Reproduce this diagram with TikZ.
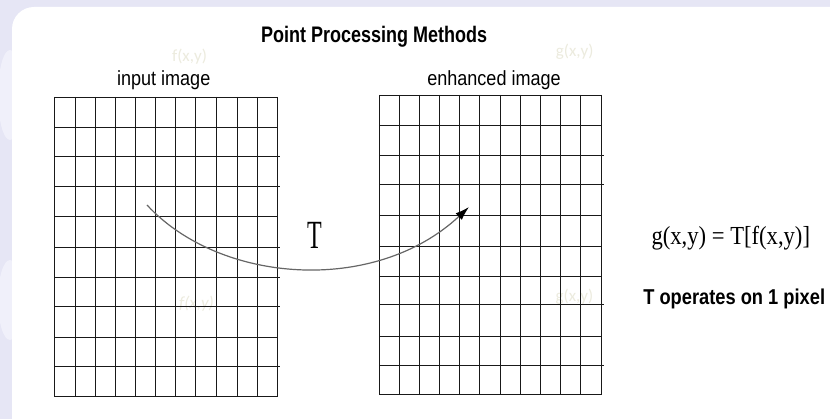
\documentclass[tikz,border=0pt]{standalone}
\usepackage{fontspec}
\setmainfont{Liberation Serif}
\newfontfamily\titlefont{Liberation Sans}[FakeStretch=0.8]
\newfontfamily\labelfont{Liberation Sans}[FakeStretch=0.88]
\newfontfamily\opfont{Liberation Sans}[FakeStretch=0.85]
\newfontfamily\formfont{Liberation Serif}[FakeStretch=0.87]
\newfontfamily\bigTfont{Liberation Serif}[FakeStretch=0.6]
\newfontfamily\wmfont{Carlito}
\usetikzlibrary{arrows.meta}
\definecolor{lav}{RGB}{230,230,245}
\definecolor{lavlight}{RGB}{240,240,250}
\definecolor{wm}{RGB}{236,235,222}
\definecolor{gridc}{RGB}{25,25,25}
\begin{document}
\begin{tikzpicture}[x=1pt,y=-1pt,
  gridline/.style={draw=gridc,line width=1.4pt},
  titletext/.style={font=\titlefont\bfseries\fontsize{22.5}{26}\selectfont,anchor=base,inner sep=0pt},
  labeltext/.style={font=\labelfont\fontsize{20.5}{24}\selectfont,anchor=base,inner sep=0pt},
  optext/.style={font=\opfont\bfseries\fontsize{21.5}{25}\selectfont,anchor=base,inner sep=0pt},
  formtext/.style={font=\formfont\fontsize{26}{30}\selectfont,anchor=base,inner sep=0pt},
  bigT/.style={font=\bigTfont\fontsize{40}{44}\selectfont,anchor=base,inner sep=0pt},
  wmtext/.style={font=\wmfont\fontsize{17}{20}\selectfont,text=wm,inner sep=0pt},
  curveline/.style={draw=black!60,line width=1.2pt,-{Latex[length=14pt,width=9pt,black]}}
]
\useasboundingbox (0,0) rectangle (830,419);
% background
\fill[lav] (0,0) rectangle (830,419);
\fill[lavlight] (10,95) ellipse (12 and 45);
\fill[lavlight] (10,300) ellipse (12 and 40);
\fill[white,rounded corners=22pt] (12,7) rectangle (860,440);

% faint watermark texts
\node[wmtext] (wf1) at (189.5,57) {f(x,y)};
\node[wmtext] (wg1) at (574.7,52) {g(x,y)};
\node[wmtext,font=\wmfont\itshape\fontsize{17}{20}\selectfont] (wf2) at (196.5,304) {f(x,y)};
\node[wmtext] (wg2) at (574.5,296.5) {g(x,y)};

% input grid
\foreach \gx in {54,75,95,115,135,155,175,195,216,237,257,277}
  \draw[gridline] (\gx+0.5,97) -- (\gx+0.5,397);
\foreach \gy in {97,127,156,186,216,247,277,306,337,366,396}
  \draw[gridline] (54.5,\gy+0.5) -- (277.5,\gy+0.5);
\foreach \gy in {156,186,247,277,306,366}
  \draw[gridline] (277.5,\gy+0.5) -- (280,\gy+0.5);

% enhanced grid
\foreach \gx in {379,399,419,439,459,479,500,520,540,560,580,601}
  \draw[gridline] (\gx+0.5,95) -- (\gx+0.5,395);
\foreach \gy in {95,125,155,184,215,246,276,304,336,365,394}
  \draw[gridline] (379.5,\gy+0.5) -- (601.5,\gy+0.5);
\foreach \gy in {155,184,304,365}
  \draw[gridline] (601.5,\gy+0.5) -- (604,\gy+0.5);

% texts
\node[titletext] (title) at (374.2,42.3) {Point Processing Methods};
\node[labeltext] (inlab) at (163.7,86) {input image};
\node[labeltext] (outlab) at (494,86) {enhanced image};
\node[bigT] (T) at (315,249) {T};
\node[formtext] (form) at (730.8,244.3) {g(x,y) = T[f(x,y)]};
\node[optext] (op) at (734.2,304.3) {T operates on 1 pixel};

% transform curve
\coordinate (src) at (147,205);
\coordinate (dst) at (469,207);
\draw[curveline] (src) .. controls (220,284) and (375,295) .. (dst);
\end{tikzpicture}
\end{document}
